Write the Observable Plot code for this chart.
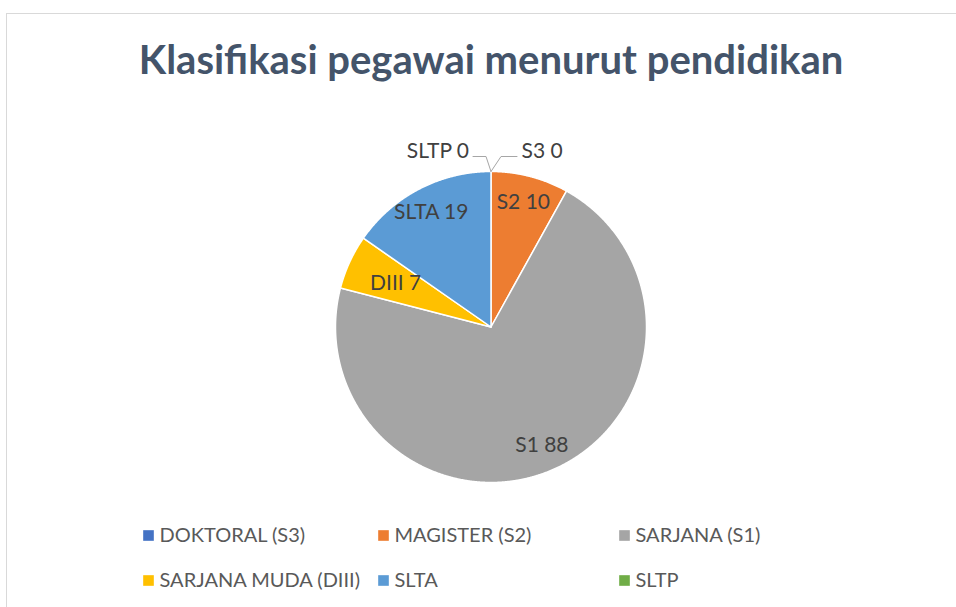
<!DOCTYPE html>
<html><head><meta charset="utf-8">
<script src="https://cdn.jsdelivr.net/npm/d3@7"></script>
<script src="https://cdn.jsdelivr.net/npm/@observablehq/plot@0.6"></script>
<style>
html,body{margin:0;padding:0;background:#fff;overflow:hidden;}
#chart{position:absolute;left:0;top:0;}
#frame{position:absolute;left:6px;top:13px;width:970px;height:620px;border-left:1px solid #d9d9d9;border-top:1px solid #d9d9d9;pointer-events:none;}
</style></head>
<body><div id="chart"></div><div id="frame"></div>
<script>
// ---- data ----
const title = "Klasifikasi pegawai menurut pendidikan";
const categories = ["DOKTORAL (S3)", "MAGISTER (S2)", "SARJANA (S1)", "SARJANA MUDA (DIII)", "SLTA", "SLTP"];
const shortLabels = ["S3", "S2", "S1", "DIII", "SLTA", "SLTP"];
const values = [0, 10, 88, 7, 19, 0];
const colors = ["#4472C4", "#ED7D31", "#A5A5A5", "#FFC000", "#5B9BD5", "#70AD47"];

// ---- layout ----
const W = 956, H = 607, CX = 490.5, CY = 326.5, R = 155.5;
const FONT = "Lato, 'Open Sans', sans-serif";
const labelRadius = {DIII: 0.675};            // inside-label radius (fraction of R)
const defaultLabelRadius = 0.83;
const legendColX = [148, 383, 624];           // square centres (px)
const legendRowY = [535, 580];                // row centres (px)
const px = X => X - CX;                      // pixel -> data x
const py = Y => CY - Y;                      // pixel -> data y

const arcs = d3.pie().sort(null).value(d => d)(values);
const slices = categories.map((name, i) => ({
  name, short: shortLabels[i], value: values[i],
  start: arcs[i].startAngle, end: arcs[i].endAngle
}));

// slice outlines
const poly = [];
for (const s of slices) {
  if (s.value <= 0) continue;
  const n = Math.max(2, Math.ceil((s.end - s.start) / 0.004));
  poly.push({name: s.name, x: 0, y: 0});
  for (let k = 0; k <= n; k++) {
    const a = s.start + (s.end - s.start) * k / n;
    poly.push({name: s.name, x: R * Math.sin(a), y: R * Math.cos(a)});
  }
  poly.push({name: s.name, x: 0, y: 0});
}

// inside labels
const inside = slices.filter(s => s.value > 0).map(s => {
  const a = (s.start + s.end) / 2, r = R * (labelRadius[s.short] ?? defaultLabelRadius);
  return {text: `${s.short} ${s.value}`, x: r * Math.sin(a), y: r * Math.cos(a)};
});

// zero-value labels with leader lines (right side for the first, left for the last)
const zero = slices.filter(s => s.value <= 0).map(s => ({...s, side: s.start < Math.PI ? 1 : -1}));
const leaders = [];
for (const s of zero) {
  const a = s.start, right = s.side > 0;
  leaders.push({name: s.name, x: R * Math.sin(a), y: R * Math.cos(a)});
  leaders.push({name: s.name, x: right ? 10 : -5, y: R + 15});
  leaders.push({name: s.name, x: right ? 26 : -18, y: R + 15});
}
const zeroLabels = zero.map(s => ({
  text: `${s.short} ${s.value}`, side: s.side,
  x: s.side > 0 ? 30.5 : -22, y: R + 20
}));

const legend = categories.map((name, i) => ({name, col: i % 3, row: Math.floor(i / 3)}));

const chart = Plot.plot({
  width: W, height: H,
  margin: 0,
  style: {fontFamily: FONT, background: "transparent", overflow: "visible"},
  x: {domain: [-CX, W - CX], range: [0, W], axis: null},
  y: {domain: [CY - H, CY], range: [H, 0], axis: null},
  color: {domain: categories, range: colors},
  marks: [
    Plot.line(poly, {x: "x", y: "y", z: "name", fill: "name", stroke: "white", strokeWidth: 1.5, strokeLinejoin: "round", curve: "linear"}),
    Plot.text(inside, {x: "x", y: "y", text: "text", fill: "#404040", fontSize: 21}),
    Plot.line(leaders, {x: "x", y: "y", z: "name", stroke: "#a6a6a6", strokeWidth: 1}),
    Plot.text(zeroLabels.filter(d => d.side > 0), {x: "x", y: "y", text: "text", textAnchor: "start", fill: "#404040", fontSize: 21}),
    Plot.text(zeroLabels.filter(d => d.side < 0), {x: "x", y: "y", text: "text", textAnchor: "end", fill: "#404040", fontSize: 21}),
    Plot.text([title], {x: () => px(490.5), y: () => py(60.5), text: d => d, fill: "#44546A", fontSize: 40, fontWeight: "bold"}),
    Plot.dot(legend, {x: d => px(legendColX[d.col]), y: d => py(legendRowY[d.row]), fill: "name", symbol: "square", r: 6}),
    Plot.text(legend, {x: d => px(legendColX[d.col] + 11), y: d => py(legendRowY[d.row]), text: "name", textAnchor: "start", fill: "#595959", fontSize: 20})
  ]
});
document.getElementById("chart").appendChild(chart);
</script>
</body></html>
